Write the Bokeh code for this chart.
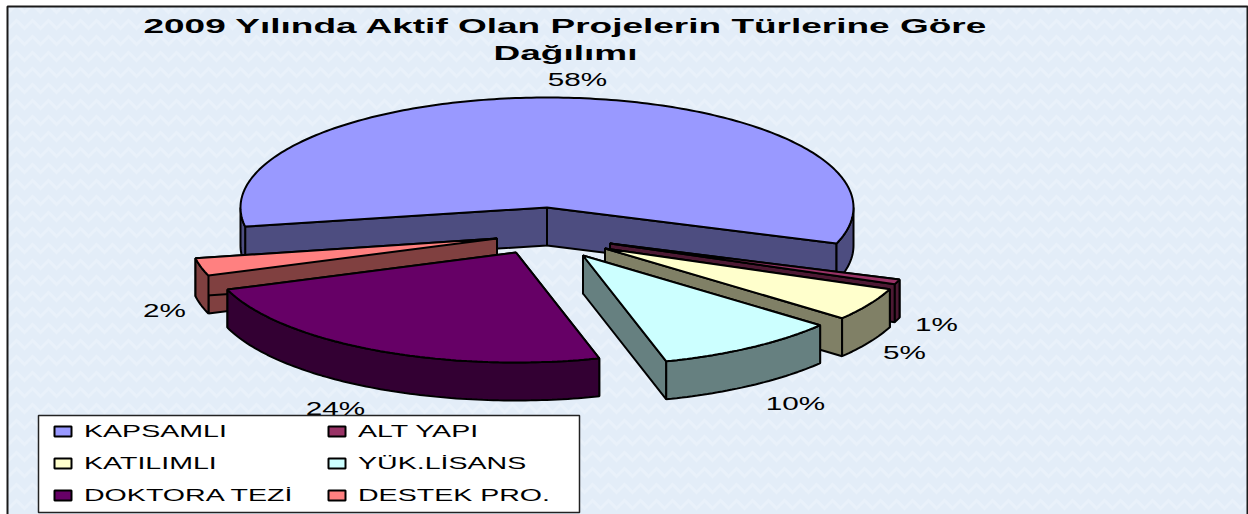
import math
from bokeh.plotting import figure
from bokeh.models import ColumnDataSource, Range1d, CustomJS
from bokeh.core.properties import value
from bokeh.embed import file_html
from bokeh.io import curdoc
from bokeh.resources import INLINE

# --- data ---
title_text = "2009 Yılında Aktif Olan Projelerin Türlerine Göre\nDağılımı"
categories = ["KAPSAMLI", "ALT YAPI", "KATILIMLI", "YÜK.LİSANS", "DOKTORA TEZİ", "DESTEK PRO."]
shares = [58.1, 0.7, 4.9, 9.7, 23.9, 2.6]
share_labels = ["58%", "1%", "5%", "10%", "24%", "2%"]
top_colors = ["#9999FF", "#993366", "#FFFFCC", "#CCFFFF", "#660066", "#FF8080"]
wall_colors = ["#4D4D80", "#4D1933", "#808066", "#668080", "#330033", "#804040"]

# --- layout (page pixels) ---
W, H = 1248, 514
CX, CY, RX, RY, DEPTH = 546.5, 207.0, 306.5, 110.0, 38.0
FIRST_ANGLE = 260.0
explode = [(0, 0), (63, 36), (58, 41), (36, 48), (-31, 45), (-50, 31)]
label_pos = [(577, 79), (936, 324), (904, 352), (795, 403), (335, 408), (164, 310)]
draw_order = [0, 1, 2, 3, 5, 4]
FONT = "Liberation Sans"

p = figure(width=W, height=H, output_backend="svg", toolbar_location=None,
           x_range=Range1d(0, W), y_range=Range1d(H, 0), min_border=0,
           x_axis_type=None, y_axis_type=None, outline_line_color=None,
           background_fill_color="white", border_fill_color="white")
p.grid.visible = False
p.styles = {"position": "absolute", "left": "0px", "top": "0px"}

# textured panel: mean colour with a faint wavy hatch, framed in black
p.quad(left=[7], right=[1247], top=[6], bottom=[520], fill_color="#E3EDF8",
       line_color="#1A1A1A", line_width=2,
       hatch_pattern="horizontal_wave", hatch_color="#F3F8FD", hatch_alpha=0.4,
       hatch_scale=16, hatch_weight=3)

def pt(ox, oy, clock_deg, r=1.0, drop=0.0):
    a = math.radians(clock_deg)
    return (CX + ox + RX * r * math.sin(a), CY + oy - RY * r * math.cos(a) + drop)

starts = []
acc = FIRST_ANGLE
for v in shares:
    starts.append(acc)
    acc += v * 3.6

def add_poly(src, pts, color):
    src["xs"].append([q[0] for q in pts])
    src["ys"].append([q[1] for q in pts])
    src["c"].append(color)

for i in draw_order:
    a0 = starts[i]
    a1 = a0 + shares[i] * 3.6
    ox, oy = explode[i]
    steps = max(4, int(shares[i] * 3.6))
    arc = [a0 + (a1 - a0) * k / steps for k in range(steps + 1)]
    layer = {"xs": [], "ys": [], "c": []}
    for e in (a0, a1):
        tip = pt(ox, oy, e)
        apex = pt(ox, oy, e, 0)
        add_poly(layer, [apex, tip, (tip[0], tip[1] + DEPTH), (apex[0], apex[1] + DEPTH)], wall_colors[i])
    for base in (0, 360):
        lo = max(a0, 90 + base)
        hi = min(a1, 270 + base)
        if hi > lo:
            n = max(3, int(hi - lo))
            rim = [pt(ox, oy, lo + (hi - lo) * k / n) for k in range(n + 1)]
            add_poly(layer, rim + [(q[0], q[1] + DEPTH) for q in reversed(rim)], wall_colors[i])
    p.patches("xs", "ys", source=ColumnDataSource(layer), fill_color="c", line_color="black", line_width=2)
    top = [pt(ox, oy, 0, 0)] + [pt(ox, oy, a) for a in arc]
    p.patch([q[0] for q in top], [q[1] for q in top], fill_color=top_colors[i], line_color="black", line_width=2)

# percent labels
p.text(x=[q[0] for q in label_pos], y=[q[1] for q in label_pos], text=share_labels,
       text_font=value(FONT), text_font_size="18px", text_color="black",
       text_align="center", text_baseline="middle")

# title
p.text(x=[565], y=[39], text=[title_text], text_font=value(FONT), text_font_style="bold",
       text_font_size="20px", text_color="black", text_align="center", text_baseline="middle",
       text_line_height=1.2)

# legend
p.quad(left=[38], right=[579], top=[415], bottom=[512], fill_color="white", line_color="#222222", line_width=1.5)
col_x = [54, 328]
row_y = [431, 463, 495]
leg_x = [col_x[i % 2] for i in range(6)]
leg_y = [row_y[i // 2] for i in range(6)]
p.quad(left=leg_x, right=[x + 17 for x in leg_x], top=[y - 5 for y in leg_y], bottom=[y + 5 for y in leg_y],
       fill_color=top_colors, line_color="black", line_width=2)
p.text(x=[x + 29.5 for x in leg_x], y=leg_y, text=categories, text_font=value(FONT), text_font_size="17px",
       text_color="black", text_align="left", text_baseline="middle")

# the reference's texts are stretched horizontally: widen the svg text,
# about the left edge for legend entries and about the centre for the rest
stretch = CustomJS(args=dict(left_texts=categories), code="""
const walk = (root, out) => {
  for (const el of root.querySelectorAll('*')) {
    if (el.tagName === 'text') out.push(el);
    if (el.shadowRoot) walk(el.shadowRoot, out);
  }
  return out;
};
const apply = () => {
  for (const t of walk(document, [])) {
    if (t.dataset.stretched) continue;
    const isLeft = left_texts.includes(t.textContent);
    const isTitle = t.textContent.includes('Yılında') || t.textContent.includes('Dağılımı');
    const s = isTitle ? 1.85 : (isLeft ? 1.68 : 1.65);
    const b = t.getBBox();
    const x = isLeft ? b.x : b.x + b.width / 2;
    const old = t.getAttribute('transform') || '';
    t.setAttribute('transform', `${old} translate(${x} 0) scale(${s} 1) translate(${-x} 0)`);
    t.dataset.stretched = '1';
  }
};
apply();
setTimeout(apply, 50);
setTimeout(apply, 300);
""")
curdoc().add_root(p)
curdoc().js_on_event("document_ready", stretch)

open("out.html", "w").write(file_html(p, INLINE))
